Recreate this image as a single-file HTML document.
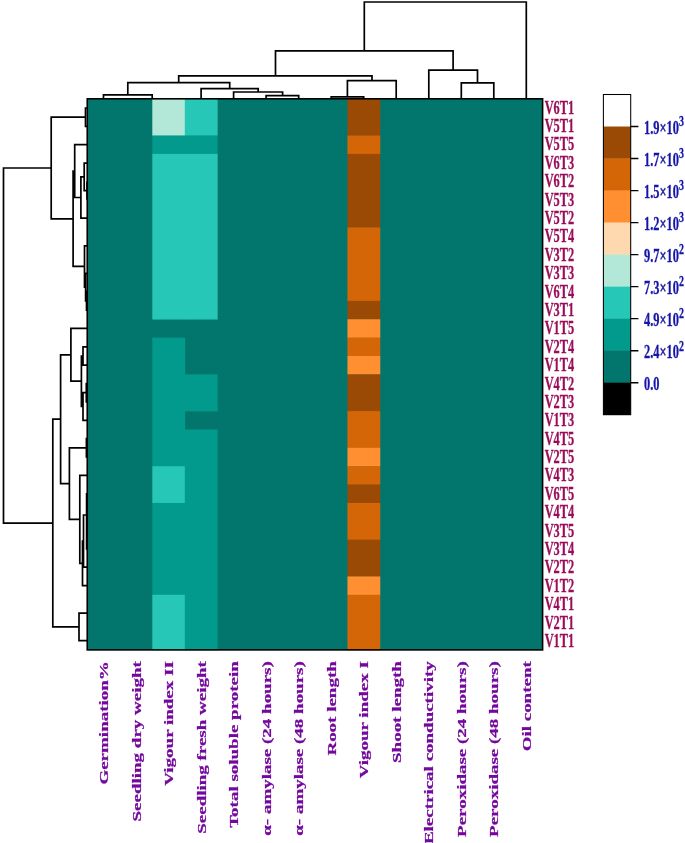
<!DOCTYPE html>
<html><head><meta charset="utf-8"><title>Clustered heatmap</title>
<style>html,body{margin:0;padding:0;background:#fff}svg{display:block}text{font-family:"Liberation Serif","Times New Roman",serif;font-weight:bold}</style></head><body>
<svg width="685" height="843" viewBox="0 0 685 843">
<rect width="685" height="843" fill="#fff"/>
<rect x="87.25" y="98.8" width="455.35" height="551.10" fill="#02766d"/>
<rect x="152.30" y="98.80" width="32.82" height="37.04" fill="#b3e8d8"/>
<rect x="152.30" y="135.54" width="32.82" height="18.67" fill="#039a8e"/>
<rect x="152.30" y="153.91" width="32.82" height="165.63" fill="#27c7b7"/>
<rect x="152.30" y="337.61" width="32.82" height="128.89" fill="#039a8e"/>
<rect x="152.30" y="466.20" width="32.82" height="37.04" fill="#27c7b7"/>
<rect x="152.30" y="502.94" width="32.82" height="92.15" fill="#039a8e"/>
<rect x="152.30" y="594.79" width="32.82" height="55.41" fill="#27c7b7"/>
<rect x="184.82" y="98.80" width="32.82" height="37.04" fill="#27c7b7"/>
<rect x="184.82" y="135.54" width="32.82" height="18.67" fill="#039a8e"/>
<rect x="184.82" y="153.91" width="32.82" height="165.63" fill="#27c7b7"/>
<rect x="184.82" y="374.35" width="32.82" height="37.04" fill="#039a8e"/>
<rect x="184.82" y="429.46" width="32.82" height="220.74" fill="#039a8e"/>
<rect x="347.45" y="98.80" width="32.82" height="37.04" fill="#9a4a05"/>
<rect x="347.45" y="135.54" width="32.82" height="18.67" fill="#d56607"/>
<rect x="347.45" y="153.91" width="32.82" height="73.78" fill="#9a4a05"/>
<rect x="347.45" y="227.39" width="32.82" height="73.78" fill="#d56607"/>
<rect x="347.45" y="300.87" width="32.82" height="18.67" fill="#9a4a05"/>
<rect x="347.45" y="319.24" width="32.82" height="18.67" fill="#ff8f30"/>
<rect x="347.45" y="337.61" width="32.82" height="18.67" fill="#d56607"/>
<rect x="347.45" y="355.98" width="32.82" height="18.67" fill="#ff8f30"/>
<rect x="347.45" y="374.35" width="32.82" height="37.04" fill="#9a4a05"/>
<rect x="347.45" y="411.09" width="32.82" height="37.04" fill="#d56607"/>
<rect x="347.45" y="447.83" width="32.82" height="18.67" fill="#ff8f30"/>
<rect x="347.45" y="466.20" width="32.82" height="18.67" fill="#d56607"/>
<rect x="347.45" y="484.57" width="32.82" height="18.67" fill="#9a4a05"/>
<rect x="347.45" y="502.94" width="32.82" height="37.04" fill="#d56607"/>
<rect x="347.45" y="539.68" width="32.82" height="37.04" fill="#9a4a05"/>
<rect x="347.45" y="576.42" width="32.82" height="18.67" fill="#ff8f30"/>
<rect x="347.45" y="594.79" width="32.82" height="55.41" fill="#d56607"/>
<path d="M103.5 98.8V94.8H152.2V98.8M266.1 98.8V95.7H298.7V98.8M233.6 98.8V92.0H282.6V95.7M201.1 98.8V88.7H258.2V92.0M127.8 94.8V82.6H229.7V88.7M331.2 98.8V96.9H363.7V98.8M347.4 96.9V80.6H396.2V98.8M178.7 82.6V75.9H372.0V80.6M461.3 98.8V82.9H493.8V98.8M428.8 98.8V70.1H477.5V82.9M275.5 75.9V50.9H453.1V70.1M364.3 50.9V2.0H526.3V98.8M87.0 108.0H85.5V126.4H87.0M87.0 181.5H87.0V199.8H87.0M87.0 163.1H84.2V190.7H87.0M84.2 176.9H80.9V218.2H87.0M87.0 144.7H74.7V197.5H80.9M87.0 291.7H86.5V310.1H87.0M87.0 273.3H85.6V300.9H86.5M87.0 245.8H84.5V287.1H85.6M74.7 171.1H73.1V266.4H84.5M85.5 117.2H51.2V218.8H73.1M87.0 346.8H83.0V365.2H87.0M87.0 383.5H86.3V401.9H87.0M86.3 392.7H83.0V420.3H87.0M83.0 356.0H81.4V406.5H83.0M87.0 328.4H70.9V381.2H81.4M87.0 438.6H86.4V457.0H87.0M87.0 493.8H86.6V548.9H87.0M86.6 515.0H83.5V567.2H87.0M83.5 541.1H82.5V585.6H87.0M87.0 475.4H79.8V563.4H82.5M87.0 447.8H69.4V519.4H79.9M70.9 354.8H60.6V483.6H69.4M87.0 613.2H79.0V640.7H87.0M60.6 419.2H52.8V626.9H79.0M51.2 168.0H3.5V523.1H52.8" fill="none" stroke="#000" stroke-width="1.7" stroke-linejoin="miter" stroke-linecap="butt"/>
<rect x="87.25" y="98.8" width="455.35" height="551.10" fill="none" stroke="#000" stroke-width="1.6"/>
<text transform="translate(544.7 113.5) scale(0.66 1)" font-size="18.7" fill="#9b0d5a" stroke="#9b0d5a" stroke-width="0.3">V6T1</text>
<text transform="translate(544.7 131.9) scale(0.66 1)" font-size="18.7" fill="#9b0d5a" stroke="#9b0d5a" stroke-width="0.3">V5T1</text>
<text transform="translate(544.7 150.3) scale(0.66 1)" font-size="18.7" fill="#9b0d5a" stroke="#9b0d5a" stroke-width="0.3">V5T5</text>
<text transform="translate(544.7 168.7) scale(0.66 1)" font-size="18.7" fill="#9b0d5a" stroke="#9b0d5a" stroke-width="0.3">V6T3</text>
<text transform="translate(544.7 187.1) scale(0.66 1)" font-size="18.7" fill="#9b0d5a" stroke="#9b0d5a" stroke-width="0.3">V6T2</text>
<text transform="translate(544.7 205.5) scale(0.66 1)" font-size="18.7" fill="#9b0d5a" stroke="#9b0d5a" stroke-width="0.3">V5T3</text>
<text transform="translate(544.7 223.9) scale(0.66 1)" font-size="18.7" fill="#9b0d5a" stroke="#9b0d5a" stroke-width="0.3">V5T2</text>
<text transform="translate(544.7 242.3) scale(0.66 1)" font-size="18.7" fill="#9b0d5a" stroke="#9b0d5a" stroke-width="0.3">V5T4</text>
<text transform="translate(544.7 260.7) scale(0.66 1)" font-size="18.7" fill="#9b0d5a" stroke="#9b0d5a" stroke-width="0.3">V3T2</text>
<text transform="translate(544.7 279.1) scale(0.66 1)" font-size="18.7" fill="#9b0d5a" stroke="#9b0d5a" stroke-width="0.3">V3T3</text>
<text transform="translate(544.7 297.5) scale(0.66 1)" font-size="18.7" fill="#9b0d5a" stroke="#9b0d5a" stroke-width="0.3">V6T4</text>
<text transform="translate(544.7 315.9) scale(0.66 1)" font-size="18.7" fill="#9b0d5a" stroke="#9b0d5a" stroke-width="0.3">V3T1</text>
<text transform="translate(544.7 334.3) scale(0.66 1)" font-size="18.7" fill="#9b0d5a" stroke="#9b0d5a" stroke-width="0.3">V1T5</text>
<text transform="translate(544.7 352.7) scale(0.66 1)" font-size="18.7" fill="#9b0d5a" stroke="#9b0d5a" stroke-width="0.3">V2T4</text>
<text transform="translate(544.7 371.1) scale(0.66 1)" font-size="18.7" fill="#9b0d5a" stroke="#9b0d5a" stroke-width="0.3">V1T4</text>
<text transform="translate(544.7 389.5) scale(0.66 1)" font-size="18.7" fill="#9b0d5a" stroke="#9b0d5a" stroke-width="0.3">V4T2</text>
<text transform="translate(544.7 407.9) scale(0.66 1)" font-size="18.7" fill="#9b0d5a" stroke="#9b0d5a" stroke-width="0.3">V2T3</text>
<text transform="translate(544.7 426.2) scale(0.66 1)" font-size="18.7" fill="#9b0d5a" stroke="#9b0d5a" stroke-width="0.3">V1T3</text>
<text transform="translate(544.7 444.6) scale(0.66 1)" font-size="18.7" fill="#9b0d5a" stroke="#9b0d5a" stroke-width="0.3">V4T5</text>
<text transform="translate(544.7 463.0) scale(0.66 1)" font-size="18.7" fill="#9b0d5a" stroke="#9b0d5a" stroke-width="0.3">V2T5</text>
<text transform="translate(544.7 481.4) scale(0.66 1)" font-size="18.7" fill="#9b0d5a" stroke="#9b0d5a" stroke-width="0.3">V4T3</text>
<text transform="translate(544.7 499.8) scale(0.66 1)" font-size="18.7" fill="#9b0d5a" stroke="#9b0d5a" stroke-width="0.3">V6T5</text>
<text transform="translate(544.7 518.2) scale(0.66 1)" font-size="18.7" fill="#9b0d5a" stroke="#9b0d5a" stroke-width="0.3">V4T4</text>
<text transform="translate(544.7 536.6) scale(0.66 1)" font-size="18.7" fill="#9b0d5a" stroke="#9b0d5a" stroke-width="0.3">V3T5</text>
<text transform="translate(544.7 555.0) scale(0.66 1)" font-size="18.7" fill="#9b0d5a" stroke="#9b0d5a" stroke-width="0.3">V3T4</text>
<text transform="translate(544.7 573.4) scale(0.66 1)" font-size="18.7" fill="#9b0d5a" stroke="#9b0d5a" stroke-width="0.3">V2T2</text>
<text transform="translate(544.7 591.8) scale(0.66 1)" font-size="18.7" fill="#9b0d5a" stroke="#9b0d5a" stroke-width="0.3">V1T2</text>
<text transform="translate(544.7 610.2) scale(0.66 1)" font-size="18.7" fill="#9b0d5a" stroke="#9b0d5a" stroke-width="0.3">V4T1</text>
<text transform="translate(544.7 628.6) scale(0.66 1)" font-size="18.7" fill="#9b0d5a" stroke="#9b0d5a" stroke-width="0.3">V2T1</text>
<text transform="translate(544.7 647.0) scale(0.66 1)" font-size="18.7" fill="#9b0d5a" stroke="#9b0d5a" stroke-width="0.3">V1T1</text>
<text transform="translate(108.1 661.2) rotate(-90) scale(1 0.66)" font-size="19" text-anchor="end" fill="#74089c" stroke="#74089c" stroke-width="0.35">Germination%</text>
<text transform="translate(140.6 661.2) rotate(-90) scale(1 0.66)" font-size="19" text-anchor="end" fill="#74089c" stroke="#74089c" stroke-width="0.35">Seedling dry weight</text>
<text transform="translate(173.2 661.2) rotate(-90) scale(1 0.66)" font-size="19" text-anchor="end" fill="#74089c" stroke="#74089c" stroke-width="0.35">Vigour index II</text>
<text transform="translate(205.7 661.2) rotate(-90) scale(1 0.66)" font-size="19" text-anchor="end" fill="#74089c" stroke="#74089c" stroke-width="0.35">Seedling fresh weight</text>
<text transform="translate(238.2 661.2) rotate(-90) scale(1 0.66)" font-size="19" text-anchor="end" fill="#74089c" stroke="#74089c" stroke-width="0.35">Total soluble protein</text>
<text transform="translate(270.7 661.2) rotate(-90) scale(1 0.66)" font-size="19" text-anchor="end" fill="#74089c" stroke="#74089c" stroke-width="0.35">α- amylase (24 hours)</text>
<text transform="translate(303.3 661.2) rotate(-90) scale(1 0.66)" font-size="19" text-anchor="end" fill="#74089c" stroke="#74089c" stroke-width="0.35">α- amylase (48 hours)</text>
<text transform="translate(335.8 661.2) rotate(-90) scale(1 0.66)" font-size="19" text-anchor="end" fill="#74089c" stroke="#74089c" stroke-width="0.35">Root length</text>
<text transform="translate(368.3 661.2) rotate(-90) scale(1 0.66)" font-size="19" text-anchor="end" fill="#74089c" stroke="#74089c" stroke-width="0.35">Vigour index I</text>
<text transform="translate(400.8 661.2) rotate(-90) scale(1 0.66)" font-size="19" text-anchor="end" fill="#74089c" stroke="#74089c" stroke-width="0.35">Shoot length</text>
<text transform="translate(433.4 661.2) rotate(-90) scale(1 0.66)" font-size="19" text-anchor="end" fill="#74089c" stroke="#74089c" stroke-width="0.35">Electrical conductivity</text>
<text transform="translate(465.9 661.2) rotate(-90) scale(1 0.66)" font-size="19" text-anchor="end" fill="#74089c" stroke="#74089c" stroke-width="0.35">Peroxidase (24 hours)</text>
<text transform="translate(498.4 661.2) rotate(-90) scale(1 0.66)" font-size="19" text-anchor="end" fill="#74089c" stroke="#74089c" stroke-width="0.35">Peroxidase (48 hours)</text>
<text transform="translate(530.9 661.2) rotate(-90) scale(1 0.66)" font-size="19" text-anchor="end" fill="#74089c" stroke="#74089c" stroke-width="0.35">Oil content</text>
<rect x="603.4" y="94.50" width="27.3" height="32.32" fill="#ffffff"/>
<rect x="603.4" y="126.52" width="27.3" height="32.32" fill="#9a4a05"/>
<rect x="603.4" y="158.54" width="27.3" height="32.32" fill="#d56607"/>
<rect x="603.4" y="190.56" width="27.3" height="32.32" fill="#ff8f30"/>
<rect x="603.4" y="222.58" width="27.3" height="32.32" fill="#fed8ae"/>
<rect x="603.4" y="254.60" width="27.3" height="32.32" fill="#b3e8d8"/>
<rect x="603.4" y="286.62" width="27.3" height="32.32" fill="#27c7b7"/>
<rect x="603.4" y="318.64" width="27.3" height="32.32" fill="#039a8e"/>
<rect x="603.4" y="350.66" width="27.3" height="32.32" fill="#02766d"/>
<rect x="603.4" y="382.68" width="27.3" height="32.32" fill="#000000"/>
<rect x="603.4" y="94.5" width="27.3" height="320.20" fill="none" stroke="#000" stroke-width="1.05"/>
<text transform="translate(644 133.6) scale(0.685 1)" font-size="18.1" fill="#1414a8" stroke="#1414a8" stroke-width="0.3">1.9×10<tspan font-size="14.5" dy="-7.3">3</tspan></text>
<text transform="translate(644 165.6) scale(0.685 1)" font-size="18.1" fill="#1414a8" stroke="#1414a8" stroke-width="0.3">1.7×10<tspan font-size="14.5" dy="-7.3">3</tspan></text>
<text transform="translate(644 197.7) scale(0.685 1)" font-size="18.1" fill="#1414a8" stroke="#1414a8" stroke-width="0.3">1.5×10<tspan font-size="14.5" dy="-7.3">3</tspan></text>
<text transform="translate(644 229.7) scale(0.685 1)" font-size="18.1" fill="#1414a8" stroke="#1414a8" stroke-width="0.3">1.2×10<tspan font-size="14.5" dy="-7.3">3</tspan></text>
<text transform="translate(644 261.7) scale(0.685 1)" font-size="18.1" fill="#1414a8" stroke="#1414a8" stroke-width="0.3">9.7×10<tspan font-size="14.5" dy="-7.3">2</tspan></text>
<text transform="translate(644 293.7) scale(0.685 1)" font-size="18.1" fill="#1414a8" stroke="#1414a8" stroke-width="0.3">7.3×10<tspan font-size="14.5" dy="-7.3">2</tspan></text>
<text transform="translate(644 325.7) scale(0.685 1)" font-size="18.1" fill="#1414a8" stroke="#1414a8" stroke-width="0.3">4.9×10<tspan font-size="14.5" dy="-7.3">2</tspan></text>
<text transform="translate(644 357.8) scale(0.685 1)" font-size="18.1" fill="#1414a8" stroke="#1414a8" stroke-width="0.3">2.4×10<tspan font-size="14.5" dy="-7.3">2</tspan></text>
<text transform="translate(644 389.8) scale(0.685 1)" font-size="18.1" fill="#1414a8" stroke="#1414a8" stroke-width="0.3">0.0</text>
<path d="M630.7 126.5H638.4M630.7 158.5H638.4M630.7 190.6H638.4M630.7 222.6H638.4M630.7 254.6H638.4M630.7 286.6H638.4M630.7 318.6H638.4M630.7 350.7H638.4M630.7 382.7H638.4" stroke="#000" stroke-width="1.4" fill="none"/>
</svg></body></html>
